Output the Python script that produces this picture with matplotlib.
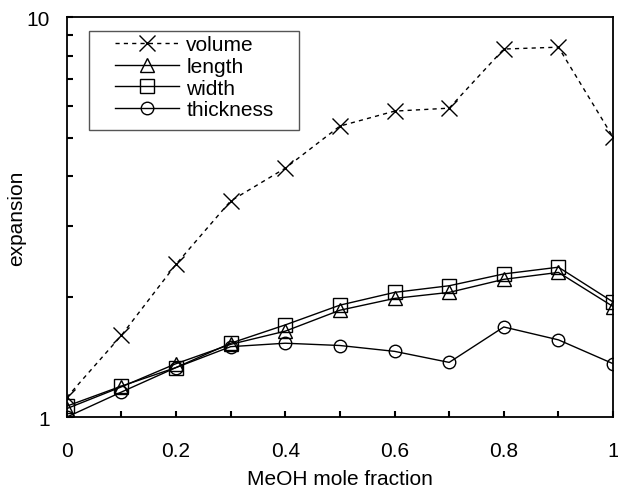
import numpy as np
import matplotlib.pyplot as plt
from matplotlib.patches import Rectangle
from matplotlib.ticker import FixedLocator, NullFormatter

plt.rcParams['font.family'] = ['Liberation Sans', 'DejaVu Sans']

x = [0, 0.1, 0.2, 0.3, 0.4, 0.5, 0.6, 0.7, 0.8, 0.9, 1.0]
volume = [1.12, 1.60, 2.41, 3.47, 4.19, 5.34, 5.82, 5.92, 8.32, 8.41, 5.01]
length = [1.05, 1.19, 1.36, 1.52, 1.64, 1.85, 1.98, 2.05, 2.21, 2.30, 1.89]
width = [1.065, 1.195, 1.33, 1.53, 1.70, 1.905, 2.05, 2.13, 2.28, 2.37, 1.94]
thickness = [1.00, 1.155, 1.33, 1.50, 1.53, 1.51, 1.46, 1.37, 1.68, 1.56, 1.36]

fig = plt.figure(figsize=(6.18, 4.89), dpi=100)
ax = fig.add_axes([0.108, 0.145, 0.884, 0.818])

ax.plot(x, volume, color='black', linestyle=(0, (3, 3)), linewidth=1,
        marker='x', markersize=12, markeredgewidth=1, label='volume')
ax.plot(x, length, color='black', linewidth=1, marker='^', markersize=10,
        markerfacecolor='none', markeredgewidth=1, label='length')
ax.plot(x, width, color='black', linewidth=1, marker='s', markersize=9.5,
        markerfacecolor='none', markeredgewidth=1, label='width')
ax.plot(x, thickness, color='black', linewidth=1, marker='o', markersize=9,
        markerfacecolor='none', markeredgewidth=1, label='thickness')

ax.set_yscale('log')
ax.set_xlim(0, 1)
ax.set_ylim(1, 10)
ax.set_yticks([1, 10])
ax.set_yticklabels(['1', '10'])
ax.yaxis.set_minor_locator(FixedLocator([2, 3, 4, 5, 6, 7, 8, 9]))
ax.yaxis.set_minor_formatter(NullFormatter())
ax.set_xticks([0, 0.2, 0.4, 0.6, 0.8, 1.0])
ax.set_xticklabels(['0', '0.2', '0.4', '0.6', '0.8', '1'])
ax.set_xticks(np.arange(0.1, 1.0, 0.2), minor=True)

ax.tick_params(axis='both', which='both', direction='in', labelsize=15,
               top=False, right=False, width=1.5, length=4)
ax.tick_params(axis='x', which='major', pad=17)
ax.tick_params(axis='y', which='major', pad=12)
for s in ax.spines.values():
    s.set_linewidth(1.3)

ax.set_xlabel('MeOH mole fraction', fontsize=15)
ax.set_ylabel('expansion', fontsize=15)
ax.xaxis.set_label_coords(0.5, -0.13)
ax.yaxis.set_label_coords(-0.075, 0.5)

# legend box drawn separately so the padding can be wider than tall
ax.add_patch(Rectangle((0.040, 0.7175), 0.385, 0.2475, transform=ax.transAxes,
                       facecolor='white', edgecolor='#555555', linewidth=1,
                       zorder=4))
leg = ax.legend(loc='upper left', bbox_to_anchor=(0.088, 0.955), fontsize=15,
                frameon=False, handlelength=3.1, handletextpad=0.33,
                labelspacing=0.13, borderpad=0, borderaxespad=0)
leg.set_zorder(5)

fig.savefig('out.png', dpi=100)
